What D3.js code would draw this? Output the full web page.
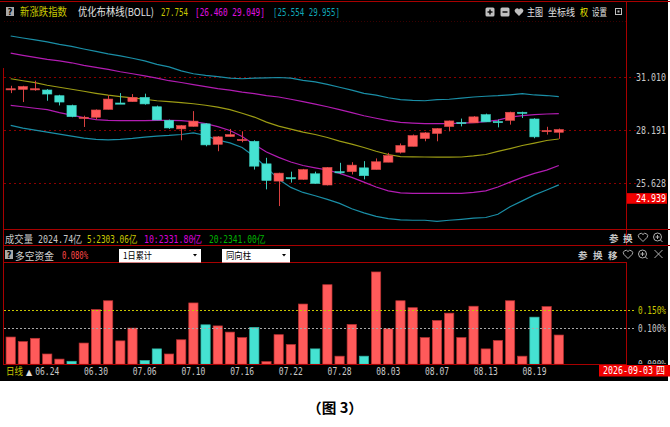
<!DOCTYPE html>
<html><head><meta charset="utf-8">
<script src="https://cdn.jsdelivr.net/npm/d3@7"></script>
<style>html,body{margin:0;padding:0;background:#fff;overflow:hidden}svg{display:block}</style>
</head><body>
<svg id="c" width="670" height="427"></svg>
<script>
// ---------- data ----------
const dates = ["06.19","06.22","06.23","06.24","06.25","06.26","06.29","06.30","07.01","07.02","07.03","07.06","07.07","07.08","07.09","07.10","07.13","07.14","07.15","07.16","07.17","07.20","07.21","07.22","07.23","07.24","07.27","07.28","07.29","07.30","07.31","08.03","08.04","08.05","08.06","08.07","08.10","08.11","08.12","08.13","08.14","08.17","08.18","08.19","08.20","08.21"];
const openP  = [30.37,30.34,30.37,30.31,30.00,29.48,28.85,28.86,29.27,29.61,29.68,29.91,29.41,28.70,28.26,28.39,28.52,27.49,27.875,27.72,27.64,26.54,25.73,25.89,25.81,26.07,25.55,26.17,26.17,26.35,26.27,26.62,27.10,27.39,27.775,28.03,28.38,28.59,28.57,28.995,28.64,28.70,29.12,28.77,28.17,28.09];
const closeP = [30.38,30.50,30.38,30.09,29.66,28.89,28.86,29.24,29.82,29.60,29.91,29.56,28.72,28.31,28.43,28.66,27.46,27.86,27.975,27.73,26.43,25.76,26.10,25.88,26.27,25.62,26.37,26.16,26.48,25.98,26.64,26.94,27.43,27.925,28.06,28.28,28.67,28.58,28.88,28.62,28.63,29.12,29.11,27.86,28.18,28.23];
const highP  = [30.54,30.54,30.82,30.36,30.05,29.52,28.94,29.27,30.02,30.14,30.09,30.11,29.47,28.74,28.46,29.18,28.56,27.90,28.26,28.14,27.69,26.83,26.12,26.17,26.30,26.17,26.39,26.59,26.62,26.67,26.80,27.07,27.53,27.975,28.10,28.30,28.69,28.79,28.92,29.05,28.74,29.15,29.15,28.81,28.37,28.28];
const lowP   = [30.14,29.66,30.27,29.73,29.48,28.86,28.36,28.74,29.27,29.57,29.68,29.52,28.71,28.26,27.69,28.38,27.39,27.15,27.86,27.59,26.27,25.35,24.60,25.66,25.79,25.61,25.53,26.07,26.04,25.81,26.27,26.62,27.04,27.39,27.64,27.64,28.14,28.39,28.57,28.62,28.34,28.48,28.82,27.79,27.975,27.76];

const bollUp2 = [33.40,33.28,33.17,33.05,32.90,32.78,32.63,32.49,32.34,32.23,32.09,31.94,31.74,31.60,31.37,31.21,31.12,31.05,30.96,30.93,30.96,30.98,31.00,30.96,30.84,30.76,30.62,30.46,30.30,30.13,30.03,29.89,29.79,29.75,29.73,29.79,29.81,29.87,29.93,29.97,30.00,30.05,30.11,30.04,30.01,29.955];
const bollUp1 = [32.39,32.26,32.14,32.03,31.94,31.83,31.68,31.57,31.46,31.32,31.21,31.09,30.96,30.82,30.72,30.60,30.49,30.38,30.30,30.19,30.11,30.00,29.93,29.81,29.68,29.55,29.41,29.26,29.10,28.94,28.81,28.69,28.60,28.56,28.53,28.53,28.53,28.56,28.58,28.63,28.71,28.87,28.94,29.00,29.03,29.049];
const bollMid = [30.93,30.82,30.71,30.57,30.46,30.35,30.24,30.13,30.03,29.95,29.88,29.81,29.73,29.68,29.63,29.57,29.49,29.39,29.26,29.07,28.87,28.61,28.40,28.25,28.10,27.98,27.83,27.65,27.50,27.33,27.15,26.99,26.89,26.88,26.87,26.86,26.86,26.87,26.92,26.99,27.14,27.28,27.43,27.55,27.68,27.754];
const bollDn1 = [29.48,29.41,29.33,29.26,29.10,28.97,28.84,28.74,28.70,28.69,28.69,28.69,28.70,28.70,28.69,28.63,28.53,28.38,28.18,27.88,27.48,27.11,26.85,26.63,26.46,26.35,26.25,26.09,25.90,25.68,25.46,25.28,25.19,25.17,25.17,25.17,25.17,25.17,25.21,25.28,25.46,25.68,25.90,26.09,26.24,26.460];
const bollDn2 = [28.44,28.30,28.20,28.10,28.00,27.90,27.80,27.73,27.71,27.73,27.78,27.85,27.90,27.93,27.98,28.06,27.93,27.70,27.56,27.33,26.89,26.37,25.81,25.44,25.21,25.06,24.90,24.72,24.48,24.30,24.15,24.05,24.00,23.98,23.98,23.93,23.98,24.02,24.07,24.10,24.24,24.57,24.83,25.10,25.32,25.554];

// 多空资金 (%)
const flowValues = [0.0745,0.062,0.071,0.028,0.014,0.008,0.058,0.150,0.174,0.064,0.099,0.010,0.042,0.028,0.067,0.168,0.108,0.105,0.088,0.073,0.101,0.007,0.081,0.054,0.165,0.042,0.218,0.022,0.109,0.022,0.253,0.097,0.174,0.155,0.073,0.120,0.140,0.073,0.159,0.042,0.065,0.174,0.022,0.129,0.158,0.080];
const flowDir = [1,1,1,1,1,-1,1,1,1,1,1,-1,-1,1,1,1,-1,1,1,1,-1,1,1,1,1,-1,1,1,1,-1,1,1,1,1,1,1,1,1,1,1,1,1,1,-1,1,1];

const xTickLabels = ["06.24","06.30","07.06","07.10","07.16","07.22","07.28","08.03","08.07","08.13","08.19"];
const priceTicks = [25.628, 28.191, 31.010];
const markPrice = 24.939;
const flowTicks = [0, 0.10, 0.15];

// ---------- drawing ----------
const svg = d3.select('#c');
const CJK = '"Noto Sans CJK SC","Noto Sans",sans-serif';
const MONO = '"DejaVu Sans Mono","Liberation Mono",monospace';
const RED = '#ff5a5a', CYAN = '#45e2d2', FRAME = '#a80000';

svg.append('rect').attr('x',0).attr('y',0).attr('width',668).attr('height',381).attr('fill','#000');

// squeeze a text horizontally to a given width (keeps its anchor point)
function fit(sel, len) {
  sel.each(function () {
    const n = this.getComputedTextLength();
    if (!n) return;
    const s = len / n;
    const x0 = +(this.getAttribute('x') || 0);
    this.setAttribute('transform', `translate(${x0 * (1 - s)},0) scale(${s},1)`);
  });
}
function txt(x, y, s, fill, o = {}) {
  const e = svg.append('text').attr('x', x).attr('y', y).text(s).attr('fill', fill)
    .attr('font-family', o.ff || CJK).attr('font-size', o.fs || 11);
  if (o.anchor) e.attr('text-anchor', o.anchor);
  if (o.fw) e.attr('font-weight', o.fw);
  if (o.len) fit(e, o.len);
  return e;
}
function hline(y, x1, x2, c, w, dash) {
  const l = svg.append('line').attr('x1', x1).attr('x2', x2).attr('y1', y).attr('y2', y)
    .attr('stroke', c).attr('stroke-width', w || 1).attr('shape-rendering', 'crispEdges');
  if (dash) l.attr('stroke-dasharray', dash);
  return l;
}
function vline(x, y1, y2, c, w) {
  svg.append('line').attr('x1', x).attr('x2', x).attr('y1', y1).attr('y2', y2)
    .attr('stroke', c).attr('stroke-width', w || 1).attr('shape-rendering', 'crispEdges');
}

const x = d3.scaleBand().domain(dates).range([4.6, 564.9]).paddingInner(0.24).paddingOuter(0.12);
const bw = x.bandwidth();
const cx = d => x(d) + bw / 2;
const y = d3.scaleLog().domain([25.628, 31.010]).range([183.3, 77.3]);
const y2 = d3.scaleLinear().domain([0, 0.28]).range([364.2, 262.1]);

// clip paths
const defs = svg.append('defs');
defs.append('clipPath').attr('id', 'mainClip').append('rect').attr('x', 4).attr('y', 21).attr('width', 622).attr('height', 208);
defs.append('clipPath').attr('id', 'axClip').append('rect').attr('x', 628).attr('y', 262).attr('width', 42).attr('height', 102);

// price grid
priceTicks.forEach(t => hline(Math.round(y(t)) + 0.5, 4, 636, '#8a0000', 1, '2,3'));
hline(21.5, 4, 626, '#3a0000', 1, '1,2');

// bollinger lines
const main = svg.append('g').attr('clip-path', 'url(#mainClip)');
const line = d3.line().x((d, i) => cx(dates[i])).y(d => y(d));
[[bollUp2, '#1a8ea6'], [bollDn2, '#1a8ea6'], [bollUp1, '#b21cb2'], [bollDn1, '#b21cb2'], [bollMid, '#9c9c14']]
  .forEach(([arr, c]) => main.append('path').attr('d', line(arr)).attr('fill', 'none').attr('stroke', c).attr('stroke-width', 1.2));

// candles
dates.forEach((d, i) => {
  const up = closeP[i] >= openP[i];
  const col = up ? RED : CYAN;
  const xm = Math.round(cx(d)) + 0.5;
  main.append('line').attr('x1', xm).attr('x2', xm).attr('y1', y(highP[i])).attr('y2', y(lowP[i]))
    .attr('stroke', up ? '#d84040' : '#3cc8b8').attr('stroke-width', 1);
  const top = y(Math.max(openP[i], closeP[i])), bot = y(Math.min(openP[i], closeP[i]));
  const h = Math.max(1.2, bot - top);
  main.append('rect').attr('x', x(d)).attr('width', bw).attr('y', top).attr('height', h)
    .attr('fill', col).attr('stroke', up ? '#e04848' : '#3cd0c0').attr('stroke-width', 0.6);
});

// right price axis
const ay = svg.append('g').attr('transform', 'translate(636,0)')
  .call(d3.axisRight(y).tickValues(priceTicks).tickFormat(d3.format('.3f')).tickSize(0).tickPadding(0));
ay.select('.domain').remove();
ay.selectAll('text').attr('fill', '#c8c8c8').attr('font-family', MONO).attr('font-size', 11);
fit(ay.selectAll('text'), 30);
svg.append('rect').attr('x', 627).attr('y', y(markPrice) - 5.3).attr('width', 40).attr('height', 10.6).attr('fill', '#f00000');
txt(636, y(markPrice) + 4, d3.format('.3f')(markPrice), '#ffffff', { ff: MONO, fs: 11, len: 30 });

// flow bars
const bars = svg.append('g');
dates.forEach((d, i) => {
  const v = flowValues[i];
  bars.append('rect').attr('x', x(d)).attr('width', bw).attr('y', y2(v)).attr('height', y2(0) - y2(v))
    .attr('fill', flowDir[i] > 0 ? RED : CYAN)
    .attr('stroke', flowDir[i] > 0 ? '#b83030' : '#30b0a0').attr('stroke-width', 0.7);
});
// flow grid
hline(Math.round(y2(0.15)) + 0.5, 4, 636, '#c8c800', 1, '2,2');
hline(Math.round(y2(0.10)) + 0.5, 4, 636, '#a8a8a8', 1, '2,2');
const afWrap = svg.append('g').attr('clip-path', 'url(#axClip)');
const af = afWrap.append('g').attr('transform', 'translate(638,0)')
  .call(d3.axisRight(y2).tickValues(flowTicks).tickFormat(d => d3.format('.3f')(d) + '%').tickSize(0).tickPadding(0));
af.select('.domain').remove();
af.selectAll('text').attr('fill', d => d === 0.15 ? '#c8c800' : '#c8c8c8').attr('font-family', MONO).attr('font-size', 11);
fit(af.selectAll('text'), 28);

// x axis
const ax = svg.append('g').attr('transform', 'translate(0,365)')
  .call(d3.axisBottom(x).tickValues(xTickLabels).tickSize(0).tickPadding(0));
ax.select('.domain').remove();
ax.selectAll('text').attr('y', 10).attr('dy', 0).attr('fill', '#c8c8c8').attr('font-family', MONO).attr('font-size', 11);
fit(ax.selectAll('text'), 24);
txt(6, 375, '日线', '#c8c800', { fs: 10, len: 17 });
txt(26, 375, '▲', '#e0e0e0', { ff: '"DejaVu Sans",sans-serif', fs: 8 });
svg.append('rect').attr('x', 599).attr('y', 365).attr('width', 71).attr('height', 11.5).attr('fill', '#f00000');
txt(603, 374.5, '2026-09-03', '#ffffff', { ff: MONO, fs: 10, len: 50 });
txt(656, 374.5, '四', '#ffffff', { fs: 10, len: 9 });

// frames
hline(1.5, 0, 670, FRAME);
vline(626.5, 1, 246, FRAME);
vline(626.5, 262, 365, FRAME);
vline(3.5, 68, 365, FRAME);
hline(229.5, 3, 670, FRAME);
hline(245.5, 3, 670, FRAME);
hline(262.5, 3, 627, FRAME);
hline(364.5, 3, 627, FRAME);

// ---------- header row 1 ----------
function qIcon(x0, y0) {
  svg.append('rect').attr('x', x0).attr('y', y0).attr('width', 8).attr('height', 9).attr('fill', '#a8a8a8');
  txt(x0 + 4, y0 + 8, '?', '#000', { ff: '"DejaVu Sans",sans-serif', fs: 8, anchor: 'middle', fw: 'bold' });
}
qIcon(6, 7);
txt(20, 16, '新涨跌指数', '#c8c800', { fs: 11, len: 47 });
txt(78, 16, '优化布林线(BOLL)', '#e4e4e4', { fs: 11, len: 76 });
txt(161, 16, '27.754', '#c8c800', { ff: MONO, fs: 11, len: 27 });
txt(195, 16, '[26.460 29.049]', '#e010e0', { ff: MONO, fs: 11, len: 70 });
txt(273, 16, '[25.554 29.955]', '#10a8b8', { ff: MONO, fs: 11, len: 67 });

// right toolbar row 1
function boxIcon(x0, minus) {
  svg.append('rect').attr('x', x0).attr('y', 7.5).attr('width', 9).attr('height', 9).attr('rx', 1.5).attr('fill', '#c0c0c0');
  svg.append('line').attr('x1', x0 + 2).attr('x2', x0 + 7).attr('y1', 12).attr('y2', 12).attr('stroke', '#000').attr('stroke-width', 1.4);
  if (!minus) svg.append('line').attr('x1', x0 + 4.5).attr('x2', x0 + 4.5).attr('y1', 9.5).attr('y2', 14.5).attr('stroke', '#000').attr('stroke-width', 1.4);
}
boxIcon(485.5, false);
boxIcon(500.5, true);
svg.append('path').attr('d', 'M519,16 L515,12 A2.2,2.2 0 0 1 519,9.5 A2.2,2.2 0 0 1 523,12 Z').attr('fill', '#c0c0c0');
txt(527, 16, '主图', '#e0e0e0', { fs: 10, len: 16 });
txt(548, 16, '坐标线', '#e0e0e0', { fs: 10, len: 27 });
txt(580, 16, '权', '#e8e800', { fs: 10, len: 8 });
txt(592, 16, '设置', '#e0e0e0', { fs: 10, len: 15 });
svg.append('rect').attr('x', 615.5).attr('y', 8.5).attr('width', 6).attr('height', 6).attr('fill', 'none').attr('stroke', '#c0c0c0');
svg.append('rect').attr('x', 617.5).attr('y', 10.5).attr('width', 2).attr('height', 2).attr('fill', '#c0c0c0');

// ---------- row 2: 成交量 ----------
txt(5, 243, '成交量', '#c8c8c8', { fs: 10.5, len: 28 });
txt(38, 243, '2024.74亿', '#c8c8c8', { ff: MONO, fs: 10.5, len: 44 });
txt(87, 243, '5:2303.06亿', '#c8c800', { ff: MONO, fs: 10.5, len: 50 });
txt(144, 243, '10:2331.80亿', '#d800d8', { ff: MONO, fs: 10.5, len: 58 });
txt(209, 243, '20:2341.00亿', '#00b400', { ff: MONO, fs: 10.5, len: 56 });

function heart(cx0, cy0) {
  svg.append('path').attr('d', `M${cx0},${cy0 + 4} L${cx0 - 4.2},${cy0 - 0.2} A2.3,2.3 0 0 1 ${cx0},${cy0 - 3} A2.3,2.3 0 0 1 ${cx0 + 4.2},${cy0 - 0.2} Z`)
    .attr('fill', 'none').attr('stroke', '#b0b0b0').attr('stroke-width', 1);
}
function zoomIcon(cx0, cy0) {
  svg.append('circle').attr('cx', cx0).attr('cy', cy0).attr('r', 4).attr('fill', 'none').attr('stroke', '#b0b0b0');
  svg.append('line').attr('x1', cx0 - 2).attr('x2', cx0 + 2).attr('y1', cy0).attr('y2', cy0).attr('stroke', '#b0b0b0');
  svg.append('line').attr('x1', cx0).attr('x2', cx0).attr('y1', cy0 - 2).attr('y2', cy0 + 2).attr('stroke', '#b0b0b0');
  svg.append('line').attr('x1', cx0 + 3).attr('x2', cx0 + 5).attr('y1', cy0 + 3).attr('y2', cy0 + 5).attr('stroke', '#b0b0b0');
}
txt(609, 242, '参', '#c8c8c8', { fs: 9.5, fw: 'bold' });
txt(623, 242, '换', '#c8c8c8', { fs: 9.5, fw: 'bold' });
heart(643, 237.5);
zoomIcon(657.5, 237);

// ---------- row 3: 多空资金 ----------
qIcon(5, 250);
txt(15, 260, '多空资金', '#d0d0d0', { fs: 10.5, len: 39 });
txt(62, 259, '0.080%', '#ff4848', { ff: MONO, fs: 10, len: 26 });
function dropdown(x0, w, label, lw) {
  svg.append('rect').attr('x', x0).attr('y', 249).attr('width', w).attr('height', 13.5).attr('fill', '#ffffff');
  txt(x0 + 4, 259.5, label, '#000', { fs: 9.5, len: lw });
  svg.append('path').attr('d', `M${x0 + w - 8},254 L${x0 + w - 4},254 L${x0 + w - 6},256.5 Z`).attr('fill', '#000');
}
dropdown(119, 82, '1日累计', 29);
dropdown(222, 68, '同向柱', 25);
txt(578, 259, '参', '#c8c8c8', { fs: 9.5, fw: 'bold' });
txt(593, 259, '换', '#c8c8c8', { fs: 9.5, fw: 'bold' });
txt(608, 259, '移', '#c8c8c8', { fs: 9.5, fw: 'bold' });
heart(628, 254.5);
zoomIcon(642.5, 254);
svg.append('path').attr('d', 'M654.5,250 L662.5,258 M662.5,250 L654.5,258').attr('stroke', '#b0b0b0').attr('stroke-width', 1);

// caption
txt(335, 413, '（图 3）', '#000', { fs: 14, anchor: 'middle', fw: 'bold', len: 56 });
</script>
</body></html>
